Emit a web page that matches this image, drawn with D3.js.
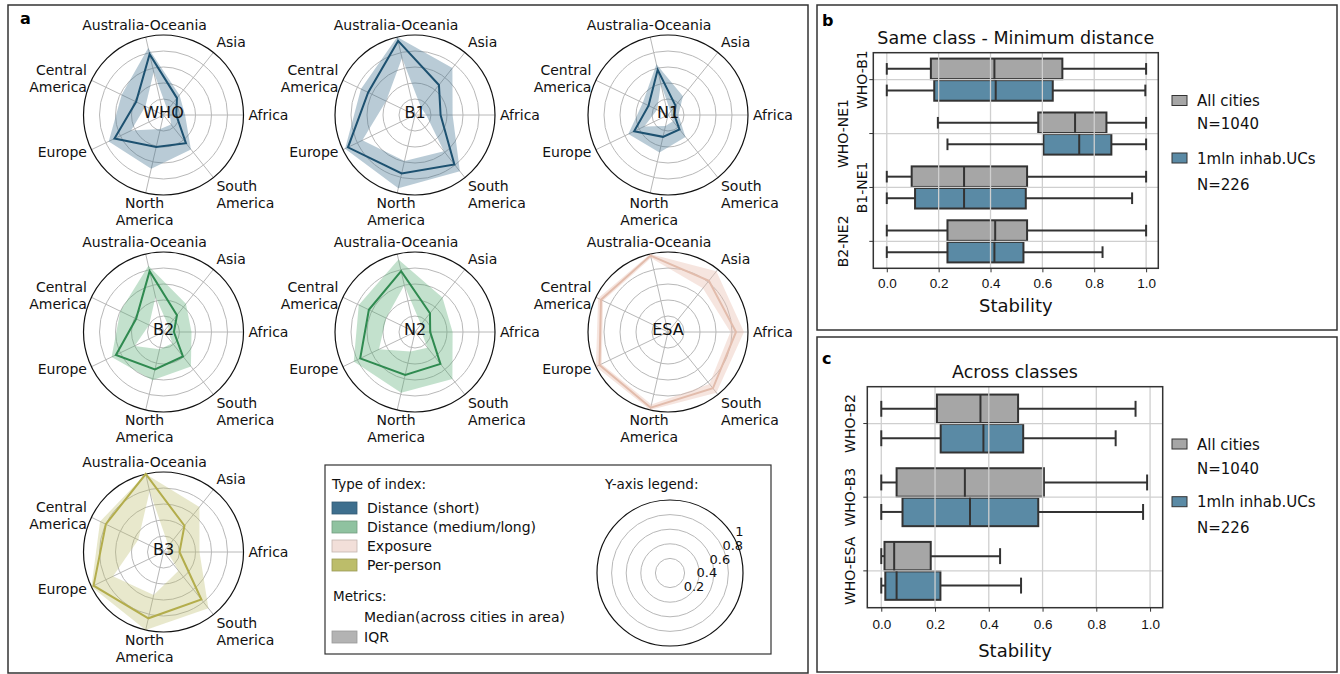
<!DOCTYPE html>
<html>
<head>
<meta charset="utf-8">
<script src="https://cdn.jsdelivr.net/npm/d3@7"></script>
<style>
  body { margin: 0; background: #fff; }
  svg { display: block; font-family: "DejaVu Sans", Verdana, sans-serif; }
</style>
</head>
<body>
<div id="chart"></div>
<script>
// regions on every radar, counter-clockwise starting east
const regions = ['Africa', 'Asia', 'Australia-Oceania', 'Central America', 'Europe', 'North America', 'South America'];

// radar values (median + IQR), same order as regions
const medWHO = [0.16, 0.27, 0.78, 0.38, 0.68, 0.41, 0.45];
const q1WHO  = [0.08, 0.08, 0.55, 0.25, 0.45, 0.18, 0.15];
const q3WHO  = [0.27, 0.32, 0.86, 0.58, 0.76, 0.69, 0.55];

const medB1 = [0.32, 0.48, 0.95, 0.65, 0.93, 0.75, 0.79];
const q1B1  = [0.14, 0.12, 0.73, 0.40, 0.73, 0.59, 0.58];
const q3B1  = [0.47, 0.75, 1.00, 0.75, 0.97, 0.94, 0.90];

const medN1 = [0.08, 0.15, 0.58, 0.27, 0.47, 0.28, 0.23];
const q1N1  = [0.04, 0.05, 0.40, 0.15, 0.33, 0.14, 0.10];
const q3N1  = [0.13, 0.30, 0.65, 0.35, 0.55, 0.48, 0.35];

const medB2 = [0.13, 0.27, 0.78, 0.38, 0.66, 0.48, 0.39];
const q1B2  = [0.06, 0.10, 0.45, 0.20, 0.40, 0.22, 0.18];
const q3B2  = [0.35, 0.45, 0.85, 0.60, 0.72, 0.62, 0.55];

const medN2 = [0.19, 0.30, 0.78, 0.64, 0.76, 0.55, 0.51];
const q1N2  = [0.08, 0.12, 0.60, 0.40, 0.50, 0.25, 0.25];
const q3N2  = [0.47, 0.55, 0.93, 0.78, 0.85, 0.78, 0.75];

const medESA = [0.85, 0.82, 0.98, 0.93, 0.95, 0.97, 0.90];
const q1ESA  = [0.78, 0.70, 0.95, 0.90, 0.92, 0.93, 0.83];
const q3ESA  = [0.95, 0.97, 1.00, 0.97, 1.00, 1.00, 0.97];

const medB3 = [0.20, 0.42, 1.00, 0.80, 0.97, 0.85, 0.76];
const q1B3  = [0.05, 0.10, 0.78, 0.35, 0.70, 0.55, 0.30];
const q3B3  = [0.45, 0.72, 1.00, 0.88, 1.00, 1.00, 0.90];

const indexNames = ['WHO', 'B1', 'N1', 'B2', 'N2', 'ESA', 'B3'];
const indexTypes = [0, 0, 0, 1, 1, 2, 3];
const typeNames = ['Distance (short)', 'Distance (medium/long)', 'Exposure', 'Per-person'];
const ringTicks = [0.2, 0.4, 0.6, 0.8, 1];

// panel b: [low whisker, q1, median, q3, high whisker]
const catsB = ['WHO-B1', 'WHO-NE1', 'B1-NE1', 'B2-NE2'];
const allB = [[0, 0.170, 0.415, 0.677, 1.0], [0.197, 0.584, 0.726, 0.847, 1.0], [0, 0.096, 0.298, 0.541, 1.0], [0, 0.234, 0.418, 0.541, 1.0]];
const ucB  = [[0, 0.183, 0.420, 0.640, 0.997], [0.234, 0.604, 0.742, 0.866, 1.0], [0, 0.109, 0.298, 0.536, 0.946], [0, 0.234, 0.415, 0.527, 0.832]];

// panel c
const catsC = ['WHO-B2', 'WHO-B3', 'WHO-ESA'];
const allC = [[0, 0.207, 0.369, 0.509, 0.946], [0, 0.057, 0.311, 0.605, 0.989], [0, 0.012, 0.048, 0.184, 0.442]];
const ucC  = [[0, 0.221, 0.380, 0.528, 0.872], [0, 0.079, 0.330, 0.584, 0.974], [0, 0.015, 0.057, 0.220, 0.520]];

const stabTicks = [0, 0.2, 0.4, 0.6, 0.8, 1.0];
const groupNames = ['All cities', '1mln inhab.UCs'];
const groupN = ['N=1040', 'N=226'];

// ---- styling
const typeLine = ['#1d5170', '#2f8a50', '#e2bcac', '#b3ad4c'];
const typeFill = ['#3e6f8e', '#5aab75', '#e8bfae', '#bcbd6a'];
const typeFillOp = [0.36, 0.36, 0.4, 0.34];
const typeSwatch = ['#3e6f8e', '#8fc2a0', '#f2dfd9', '#bcbd6a'];
const boxFill = ['#a6a6a6', '#5a8aa5'];

const W = 1340, H = 674;
const svg = d3.select('#chart').append('svg').attr('width', W).attr('height', H);
svg.append('rect').attr('width', W).attr('height', H).attr('fill', '#fff');

// panel frames
[[8, 5, 800, 668], [817, 5, 520, 325], [817, 337, 520, 335]].forEach(f => {
  svg.append('rect').attr('x', f[0]).attr('y', f[1]).attr('width', f[2]).attr('height', f[3])
    .attr('fill', 'none').attr('stroke', '#333').attr('stroke-width', 1.5);
});
[['a', 20, 24], ['b', 822, 26], ['c', 822, 364]].forEach(p => {
  svg.append('text').attr('x', p[1]).attr('y', p[2]).attr('font-size', 16).attr('font-weight', 'bold').text(p[0]);
});

// ---- radars
const R = 80;
const rScale = d3.scaleLinear().domain([0, 1]).range([0, R]);
// d3 radial angle: clockwise from 12 o'clock; region i sits at 2*pi*i/7 counter-clockwise from east
const ang = d3.scaleLinear().domain([0, regions.length]).range([Math.PI / 2, Math.PI / 2 - 2 * Math.PI]);
const radial = d3.lineRadial().angle((d, i) => ang(i)).radius(d => rScale(d)).curve(d3.curveLinearClosed);

const radarSlots = [[163.5, 115], [415, 115], [668, 115], [163.5, 332], [415, 332], [668, 332], [163.5, 552]];
const radarTable = indexNames.map((name, k) => ({
  name, type: indexTypes[k],
  med: [medWHO, medB1, medN1, medB2, medN2, medESA, medB3][k],
  q1: [q1WHO, q1B1, q1N1, q1B2, q1N2, q1ESA, q1B3][k],
  q3: [q3WHO, q3B1, q3N1, q3B2, q3N2, q3ESA, q3B3][k]
}));

function drawRings(g, spokes, r) {
  const sc = d3.scaleLinear().domain([0, 1]).range([0, r]);
  g.selectAll('circle.ring').data(ringTicks.slice(0, -1)).join('circle')
    .attr('r', d => sc(d)).attr('fill', 'none').attr('stroke', '#b8b8b8').attr('stroke-width', 1);
  if (spokes) {
    g.selectAll('line.spoke').data(regions).join('line')
      .attr('x2', (d, i) => sc(1) * Math.sin(ang(i))).attr('y2', (d, i) => -sc(1) * Math.cos(ang(i)))
      .attr('stroke', '#b8b8b8').attr('stroke-width', 1);
  }
  g.append('circle').attr('r', sc(1)).attr('fill', 'none').attr('stroke', '#111').attr('stroke-width', 1.2);
}

radarTable.forEach((d, k) => {
  const [cx, cy] = radarSlots[k];
  const g = svg.append('g').attr('transform', `translate(${cx},${cy})`);
  drawRings(g, true, R);

  g.append('path').attr('d', radial(d.q3) + radial(d.q1))
    .attr('fill', typeFill[d.type]).attr('fill-opacity', typeFillOp[d.type]).attr('fill-rule', 'evenodd');
  g.append('path').attr('d', radial(d.med))
    .attr('fill', 'none').attr('stroke', typeLine[d.type]).attr('stroke-width', 2).attr('stroke-linejoin', 'miter');

  g.append('text').attr('y', -3).attr('text-anchor', 'middle').attr('dominant-baseline', 'central')
    .attr('font-size', 16).attr('fill', '#111').text(d.name);

  regions.forEach((reg, i) => {
    const th = Math.PI / 2 - ang(i);
    const c = Math.cos(th), s = Math.sin(th);
    const ax = (R + 5) * c, ay = -(R + 5) * s;
    const anchor = c > 0.3 ? 'start' : c < -0.3 ? 'end' : 'middle';
    const lines = reg.split(' ');
    const lh = 16.8;
    let y0;
    if (s > 0.5) y0 = ay - 2 - (lines.length - 1) * lh;
    else if (s < -0.5) y0 = ay + 10;
    else y0 = ay + 5 - (lines.length - 1) * lh / 2;
    const t = g.append('text').attr('text-anchor', anchor).attr('font-size', 14).attr('fill', '#111');
    lines.forEach((ln, j) => t.append('tspan').attr('x', ax).attr('y', y0 + j * lh).text(ln));
  });
});

// ---- legend of panel a
const lg = svg.append('g');
lg.append('rect').attr('x', 325).attr('y', 465).attr('width', 446).attr('height', 189)
  .attr('fill', '#fff').attr('stroke', '#333').attr('stroke-width', 1.2);
lg.append('text').attr('x', 332).attr('y', 489).attr('font-size', 13.5).attr('fill', '#111').text('Type of index:');
const rowY = d3.scalePoint().domain(typeNames).range([508, 565]);
typeNames.forEach((t, i) => {
  lg.append('rect').attr('x', 332).attr('y', rowY(t) - 6).attr('width', 25).attr('height', 12)
    .attr('fill', typeSwatch[i]).attr('stroke', d3.color(typeSwatch[i]).darker(0.6)).attr('stroke-width', 0.8);
  lg.append('text').attr('x', 367).attr('y', rowY(t) + 5).attr('font-size', 14).attr('fill', '#111').text(t);
});
lg.append('text').attr('x', 333).attr('y', 601).attr('font-size', 13.5).attr('fill', '#111').text('Metrics:');
lg.append('text').attr('x', 364).attr('y', 622).attr('font-size', 14).attr('fill', '#111').text('Median(across cities in area)');
lg.append('rect').attr('x', 332).attr('y', 631).attr('width', 25).attr('height', 12)
  .attr('fill', '#b3b3b3').attr('stroke', '#999').attr('stroke-width', 0.8);
lg.append('text').attr('x', 364).attr('y', 642).attr('font-size', 14).attr('fill', '#111').text('IQR');

lg.append('text').attr('x', 605).attr('y', 489).attr('font-size', 13.5).attr('fill', '#111').text('Y-axis legend:');
const lc = lg.append('g').attr('transform', 'translate(670,573)');
drawRings(lc, false, 73);
// radial tick labels run along a slanted line to the upper right
const lblX = d3.scaleLinear().domain([0, 1]).range([0.8, 65.3]);
const lblY = d3.scaleLinear().domain([0, 1]).range([31.8, -37]);
lc.selectAll('text.rl').data(ringTicks).join('text')
  .attr('x', d => lblX(d)).attr('y', d => lblY(d)).attr('font-size', 13).attr('fill', '#111')
  .text(d => d === 1 ? '1' : d3.format('.1f')(d));

// ---- box plot panels
function boxPanel(o) {
  const x = d3.scaleLinear().domain([-0.052, 1.047]).range([o.left, o.right]);
  const y = d3.scaleBand().domain(o.cats).range([o.top, o.bottom]);
  const bw = y.bandwidth();
  const sub = d3.scaleBand().domain(groupNames).range([-0.4 * bw, 0.4 * bw]);
  const g = svg.append('g');

  g.append('text').attr('x', (o.left + o.right) / 2).attr('y', o.top - 9).attr('text-anchor', 'middle')
    .attr('font-size', 17.5).attr('fill', '#111').text(o.title);

  const series = [o.all, o.uc];
  // boxes
  series.forEach((vals, s) => {
    g.selectAll(null).data(vals).join('rect')
      .attr('x', d => x(d[1])).attr('width', d => x(d[3]) - x(d[1]))
      .attr('y', (d, i) => y(o.cats[i]) + bw / 2 + sub(groupNames[s]) + 0.5)
      .attr('height', sub.bandwidth() - 1)
      .attr('fill', boxFill[s]).attr('stroke', '#333').attr('stroke-width', 2);
  });

  // grid on top of box fill
  g.selectAll(null).data(stabTicks).join('line')
    .attr('x1', d => x(d)).attr('x2', d => x(d)).attr('y1', o.top).attr('y2', o.bottom)
    .attr('stroke', '#cfcfcf').attr('stroke-width', 1.3);
  g.selectAll(null).data(o.cats).join('line')
    .attr('x1', o.left).attr('x2', o.right).attr('y1', d => y(d) + bw / 2).attr('y2', d => y(d) + bw / 2)
    .attr('stroke', '#cfcfcf').attr('stroke-width', 1.3);

  // whiskers, caps, medians
  series.forEach((vals, s) => {
    vals.forEach((d, i) => {
      const y0 = y(o.cats[i]) + bw / 2 + sub(groupNames[s]);
      const yc = y0 + sub.bandwidth() / 2;
      const cap = sub.bandwidth() * 0.27;
      const ln = (x1, y1, x2, y2) => g.append('line').attr('x1', x1).attr('y1', y1).attr('x2', x2).attr('y2', y2)
        .attr('stroke', '#333').attr('stroke-width', 2);
      ln(x(d[0]), yc, x(d[1]), yc);
      ln(x(d[3]), yc, x(d[4]), yc);
      ln(x(d[0]), yc - cap, x(d[0]), yc + cap);
      ln(x(d[4]), yc - cap, x(d[4]), yc + cap);
      ln(x(d[2]), y0 + 0.5, x(d[2]), y0 + sub.bandwidth() - 0.5);
    });
  });

  // frame
  g.append('rect').attr('x', o.left).attr('y', o.top).attr('width', o.right - o.left).attr('height', o.bottom - o.top)
    .attr('fill', 'none').attr('stroke', '#333').attr('stroke-width', 1.5);

  // axes
  const ax = g.append('g').attr('transform', `translate(0,${o.bottom})`)
    .call(d3.axisBottom(x).tickValues(stabTicks).tickFormat(d3.format('.1f')).tickSize(4).tickPadding(o.pad));
  ax.select('.domain').remove();
  ax.selectAll('.tick line').attr('stroke', '#333');
  ax.selectAll('.tick text').attr('font-size', 13.5).attr('fill', '#111').attr('font-family', null);

  const ay = g.append('g').attr('transform', `translate(${o.left},0)`)
    .call(d3.axisLeft(y).tickSize(4).tickFormat(''));
  ay.select('.domain').remove();
  ay.selectAll('.tick line').attr('stroke', '#333');

  o.cats.forEach((c, i) => {
    const lx = o.labelX[i % o.labelX.length];
    g.append('text').attr('transform', `translate(${lx},${y(c) + bw / 2}) rotate(-90)`)
      .attr('text-anchor', 'middle').attr('dominant-baseline', 'central')
      .attr('font-size', 14).attr('fill', '#111').text(c);
  });

  g.append('text').attr('x', (o.left + o.right) / 2).attr('y', o.stabY).attr('text-anchor', 'middle')
    .attr('font-size', 18).attr('fill', '#111').text('Stability');

  // legend
  groupNames.forEach((gn, s) => {
    const ly = o.legY[s];
    g.append('rect').attr('x', 1172).attr('y', ly - 5).attr('width', 15).attr('height', 10)
      .attr('fill', boxFill[s]).attr('stroke', '#333').attr('stroke-width', 1);
    g.append('text').attr('x', 1197).attr('y', ly + 5.5).attr('font-size', 15).attr('fill', '#111').text(gn);
    g.append('text').attr('x', 1197).attr('y', ly + 5.5 + o.nGap[s]).attr('font-size', 15).attr('fill', '#111').text(groupN[s]);
  });
}

boxPanel({
  cats: catsB, all: allB, uc: ucB, title: 'Same class - Minimum distance',
  left: 873.3, right: 1158.3, top: 52.7, bottom: 268.3, pad: 6,
  labelX: [861.7, 843], stabY: 312, legY: [100.5, 158], nGap: [23, 26]
});
boxPanel({
  cats: catsC, all: allC, uc: ucC, title: 'Across classes',
  left: 867.3, right: 1162.7, top: 386.7, bottom: 607.7, pad: 8,
  labelX: [850], stabY: 657, legY: [444, 501.7], nGap: [24, 26]
});
</script>
</body>
</html>
